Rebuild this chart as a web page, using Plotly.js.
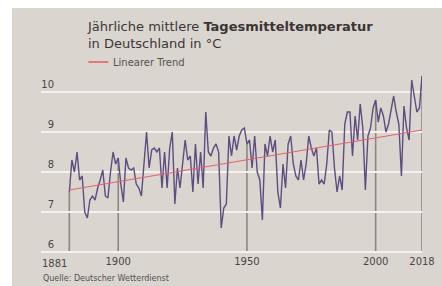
<!DOCTYPE html>
<html>
<head>
<meta charset="utf-8">
<script src="https://cdn.plot.ly/plotly-3.0.1.min.js"></script>
<style>
html,body{margin:0;padding:0;background:#ffffff;}
#wrap{position:relative;width:442px;height:286px;overflow:hidden;background:#ffffff;}
#panel{position:absolute;left:12px;top:8px;width:430px;height:278px;background:#dad5cf;}
#chart{position:absolute;left:0;top:0;width:442px;height:286px;}
</style>
</head>
<body>
<div id="wrap"><div id="panel"></div><div id="chart"></div></div>
<script>
// Jahresmitteltemperatur Deutschland 1881-2018
const startYear = 1881;
const temps = [
 7.5, 8.3, 8.0, 8.5, 7.8, 7.9, 7.0, 6.85, 7.3, 7.4,
 7.3, 7.6, 7.8, 8.05, 7.4, 7.35, 8.0, 8.5, 8.2, 8.35,
 7.7, 7.25, 8.35, 8.1, 8.05, 8.1, 7.7, 7.6, 7.4, 8.2,
 9.0, 8.1, 8.55, 8.6, 8.5, 8.6, 7.6, 8.5, 7.6, 8.6,
 9.0, 7.2, 8.1, 7.6, 8.2, 8.8, 8.3, 8.4, 7.5, 8.7,
 7.7, 8.5, 7.6, 9.5, 8.5, 8.4, 8.6, 8.7, 8.5, 6.6,
 7.1, 7.2, 8.9, 8.4, 8.9, 8.55, 8.9, 9.05, 9.1, 8.7,
 8.8, 8.1, 8.9, 8.0, 7.8, 6.8, 8.7, 8.4, 8.9, 8.5,
 8.8, 7.5, 7.1, 8.2, 7.6, 8.7, 8.9, 8.2, 7.9, 7.8,
 8.3, 7.8, 8.2, 8.9, 8.6, 8.4, 8.6, 7.7, 7.8, 7.7,
 8.2, 9.05, 9.0, 8.1, 7.5, 7.9, 7.55, 9.2, 9.5, 9.5,
 8.4, 9.4, 8.8, 9.7, 9.1, 7.55, 8.9, 9.1, 9.6, 9.8,
 9.25, 9.6, 9.4, 9.0, 9.2, 9.6, 9.9, 9.5, 9.2, 7.9,
 9.65, 9.1, 8.8, 10.3, 9.9, 9.5, 9.6, 10.4
];
const years = temps.map((_, i) => startYear + i);
const trendYears = [1881, 2018];
const trendValues = [7.55, 9.05];
const markerYears = [1881, 1900, 1950, 2000, 2018];
const xTickVals = [1900, 1950, 2000, 2018];
const xTickText = ['1900', '1950', '2000', '2018'];
const yTickVals = [6, 7, 8, 9, 10];
const yTickText = ['6', '7', '8', '9', '10'];

const FONT = '"DejaVu Sans", sans-serif';
const textCol = '#4a4545';

const dropShapes = markerYears.map(y => ({
  type: 'line', xref: 'x', yref: 'y', layer: 'below',
  x0: y, x1: y, y0: 6, y1: temps[y - startYear],
  line: {color: '#8c8782', width: 1.6}
}));

const traces = [
  {x: years, y: temps, type: 'scatter', mode: 'lines',
   line: {color: '#5f4c80', width: 1.4}, showlegend: false, hoverinfo: 'skip'},
  {x: trendYears, y: trendValues, type: 'scatter', mode: 'lines',
   line: {color: '#e2636b', width: 1.2}, showlegend: false, hoverinfo: 'skip'}
];

const layout = {
  width: 442, height: 286,
  margin: {l: 40.6, r: 19.6, t: 68, b: 30, pad: 0},
  paper_bgcolor: 'rgba(0,0,0,0)',
  plot_bgcolor: 'rgba(0,0,0,0)',
  font: {family: FONT, color: textCol, size: 10},
  title: {
    text: 'Jährliche mittlere <b>Tagesmitteltemperatur</b><br>in Deutschland in °C',
    font: {family: FONT, size: 13, color: '#3a3535'},
    xref: 'container', yref: 'container', x: 88/442, xanchor: 'left',
    y: 1 - 31/286, yanchor: 'top', pad: {t: 0, b: 0, l: 0, r: 0}
  },
  xaxis: {
    range: [1870, 2018], showgrid: false, zeroline: false, showline: false,
    tickvals: xTickVals, ticktext: xTickText, ticks: '',
    tickfont: {family: FONT, size: 10, color: textCol},
    ticklabelstandoff: -2, fixedrange: true
  },
  yaxis: {
    range: [5.9, 10.6], showgrid: true, gridcolor: '#f4f1ee', gridwidth: 1.5,
    zeroline: false, showline: false, tickvals: yTickVals, ticktext: yTickText,
    ticks: '', tickfont: {family: FONT, size: 10, color: textCol},
    ticklabelstandoff: -14, ticklabelshift: -8, fixedrange: true
  },
  shapes: dropShapes.concat([
    {type: 'line', xref: 'paper', yref: 'paper', x0: (88-40.6)/381.8, x1: (108-40.6)/381.8,
     y0: (256-62)/188, y1: (256-62)/188, line: {color: '#e2636b', width: 1.6}}
  ]),
  annotations: [
    {text: 'Linearer Trend', xref: 'paper', yref: 'paper', x: (111-40.6)/381.8, y: (256-62)/188,
     xanchor: 'left', yanchor: 'middle', showarrow: false,
     font: {family: FONT, size: 10, color: '#555050'}},
    {text: '1881', xref: 'x', yref: 'paper', x: 1881, y: 0, xanchor: 'right', yanchor: 'top',
     xshift: 0, yshift: 0, showarrow: false, font: {family: FONT, size: 10, color: textCol}},
    {text: 'Quelle: Deutscher Wetterdienst', xref: 'paper', yref: 'paper', x: 0, y: (256-278)/188,
     xanchor: 'left', yanchor: 'middle', showarrow: false,
     font: {family: FONT, size: 8, color: '#555050'}}
  ]
};

Plotly.newPlot('chart', traces, layout, {staticPlot: true, displayModeBar: false});
</script>
</body>
</html>
